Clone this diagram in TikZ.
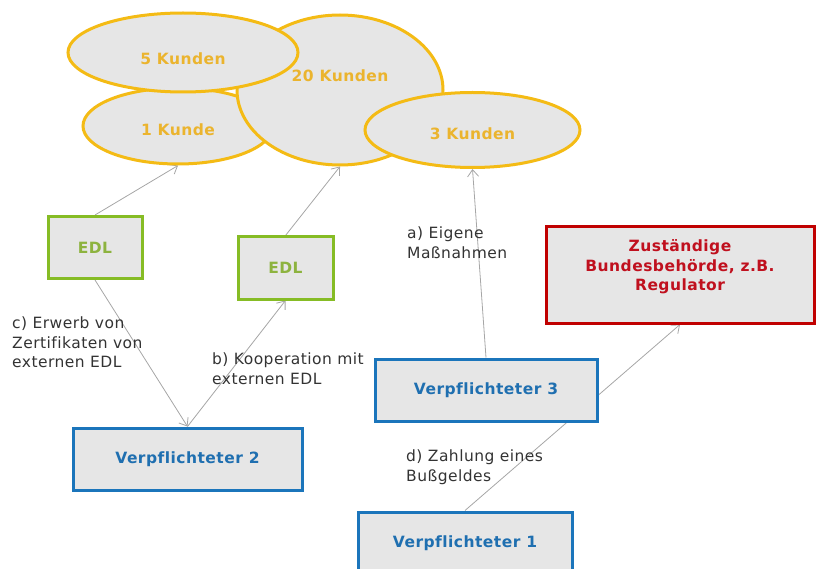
\documentclass[tikz,border=0pt]{standalone}
\usepackage{fontspec}
\setmainfont{DejaVu Sans}[LetterSpace=3, Ligatures=NoCommon]
\usetikzlibrary{shapes.geometric}
\usetikzlibrary{arrows.meta}
\usetikzlibrary{backgrounds}
\definecolor{boxgrau}{HTML}{E6E6E6}
\definecolor{kundengelb}{HTML}{F4BB15}
\definecolor{kundentext}{HTML}{EBB42E}
\definecolor{edlgruen}{HTML}{86BC25}
\definecolor{edltext}{HTML}{8DB33F}
\definecolor{pflichtblau}{HTML}{1B75BB}
\definecolor{pflichttext}{HTML}{1F6FB0}
\definecolor{amtrot}{HTML}{C00000}
\definecolor{amttext}{HTML}{C0101E}
\definecolor{pfeilgrau}{HTML}{A6A6A6}
\definecolor{schrift}{HTML}{333333}
\newcommand\schrift{\fontsize{15.5}{19.5}\selectfont}

\begin{document}
\begin{tikzpicture}[x=1pt, y=-1pt,
  box/.style={draw, line width=3pt, fill=boxgrau, inner sep=0pt,
    font=\schrift\bfseries},
  kunde/.style={ellipse, draw=kundengelb, line width=3pt, fill=boxgrau, inner sep=0pt},
  kundenlabel/.style={text=kundentext, font=\schrift\bfseries},
  pfeil/.style={pfeilgrau, line width=0.8pt, -{Straight Barb[length=7pt, width=11pt]}},
  notiz/.style={text=schrift, font=\schrift, align=left, anchor=north west, inner sep=0pt}]

  \useasboundingbox (0, 0) rectangle (816, 569);
  \clip (0, 0) rectangle (816, 569);

  % Kunden
  \node[kunde, minimum width=190, minimum height=76,
    label={[kundenlabel, yshift=-4pt]center:1 Kunde}] (k1) at (178, 126) {};
  \node[kunde, minimum width=206, minimum height=150,
    label={[kundenlabel, yshift=14pt]center:20 Kunden}] (k20) at (340, 90) {};
  \node[kunde, minimum width=230, minimum height=79,
    label={[kundenlabel, yshift=-6pt]center:5 Kunden}] (k5) at (183, 52.5) {};
  \node[kunde, minimum width=215, minimum height=75,
    label={[kundenlabel, yshift=-4pt]center:3 Kunden}] (k3) at (472.5, 130) {};

  % Akteure
  \node[box, draw=edlgruen, text=edltext, minimum width=94, minimum height=62] (edl1) at (95, 247.5) {EDL};
  \node[box, draw=edlgruen, text=edltext, minimum width=95, minimum height=62] (edl2) at (285.5, 268) {EDL};
  \node[box, draw=pflichtblau, text=pflichttext, minimum width=229, minimum height=62] (v2) at (187.5, 459) {Verpflichteter 2};
  \node[box, draw=pflichtblau, text=pflichttext, minimum width=222, minimum height=62] (v3) at (486, 390) {Verpflichteter 3};
  \node[box, draw=pflichtblau, text=pflichttext, minimum width=214, minimum height=62] (v1) at (465, 543) {Verpflichteter 1};
  \node[box, draw=amtrot, text=amttext, minimum width=268, minimum height=96, align=center] (amt) at (680, 275)
    {Zuständige\\Bundesbehörde, z.B.\\Regulator\\\mbox{}};

  % Beziehungen
  \begin{pgfonlayer}{background}
    \draw[pfeil] (edl1.north) -- (k1.south);
    \draw[pfeil] (edl2.north) -- (k20.south);
    \draw[pfeil] (v3.north) -- (k3.south);
    \draw[pfeil] (edl1.south) -- (v2.north);
    \draw[pfeil] (v2.north) -- (edl2.south);
    \draw[pfeil] (v1.north) -- (amt.south);
  \end{pgfonlayer}

  \node[notiz] (c) at (12, 317) {c) Erwerb von\\Zertifikaten von\\externen EDL};
  \node[notiz] (b) at (212, 353) {b) Kooperation mit\\externen EDL};
  \node[notiz] (a) at (407, 227) {a) Eigene\\Maßnahmen};
  \node[notiz] (d) at (406, 450) {d) Zahlung eines\\Bußgeldes};

\end{tikzpicture}
\end{document}
